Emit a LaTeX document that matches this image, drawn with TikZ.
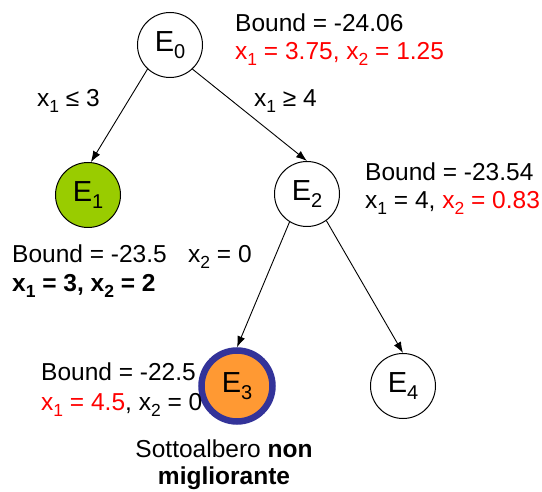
\documentclass[tikz,border=0pt]{standalone}
\usepackage{fontspec}
\setmainfont{Liberation Sans}
\usetikzlibrary{arrows.meta}
\definecolor{leafgreen}{HTML}{99CC00}
\definecolor{cutorange}{HTML}{FF9933}
\definecolor{cutblue}{HTML}{333399}
\definecolor{hotred}{HTML}{FF0000}
\newcommand\sbs[1]{\raisebox{-6pt}{\fontsize{17.5}{17.5}\selectfont #1}}
\newcommand\esb[1]{\raisebox{-7.5pt}{\fontsize{20}{20}\selectfont #1}}
\begin{document}
\begin{tikzpicture}[x=1pt,y=-1pt,
  every node/.style={font=\fontsize{24.5}{28}\selectfont},
  state/.style={circle,draw,line width=1pt,minimum size=65pt,inner sep=0pt,font=\fontsize{29}{29}\selectfont},
  txt/.style={anchor=base west,inner sep=0pt},
  ctxt/.style={anchor=base,inner sep=0pt},
  arr/.style={draw,line width=0.9pt,-{Latex[length=11pt,width=8pt]}}]
\useasboundingbox (0,0) rectangle (542,492);
\node[state] (E0) at (170,45) {E\esb{0}};
\node[state,fill=leafgreen] (E1) at (88,195) {E\esb{1}};
\node[state] (E2) at (307,194) {E\esb{2}};
\node[state,fill=cutorange,draw=cutblue,line width=6.5pt,minimum size=71pt] (E3) at (237,386) {E\esb{3}};
\node[state] (E4) at (403,386) {E\esb{4}};

\draw[arr] (E0.-133) -- (E1.85);
\draw[arr] (E0.-47) -- (E2.north);
\draw[arr] (E2.-122) -- (E3.north);
\draw[arr] (E2.-54) -- (E4.north);

\node[txt] (l01) at (37,107) {x\sbs{1} ≤ 3};
\node[txt] (l02) at (254,107) {x\sbs{1} ≥ 4};

\node[txt] (b0a) at (235,32) {Bound = -24.06};
\node[txt,text=hotred] (b0b) at (235,60) {x\sbs{1} = 3.75, x\sbs{2} = 1.25};

\node[txt] (b2a) at (365,181) {Bound = -23.54};
\node[txt] (b2b) at (365,209) {x\sbs{1} = 4, \textcolor{hotred}{x\sbs{2} = 0.83}};

\node[txt] (b1a) at (12,263) {Bound = -23.5};
\node[txt] (l23) at (188,263) {x\sbs{2} = 0};
\node[txt,font=\fontsize{24.5}{28}\selectfont\bfseries] (b1b) at (12,292) {x\sbs{1} = 3, x\sbs{2} = 2};

\node[txt] (b3a) at (41,381) {Bound = -22.5};
\node[txt] (b3b) at (41,410) {\textcolor{hotred}{x\sbs{1} = 4.5}, x\sbs{2} = 0};

\node[ctxt] (n1) at (224,458) {Sottoalbero \textbf{non}};
\node[ctxt,font=\fontsize{24.5}{28}\selectfont\bfseries] (n2) at (224,485) {migliorante};
\end{tikzpicture}
\end{document}
